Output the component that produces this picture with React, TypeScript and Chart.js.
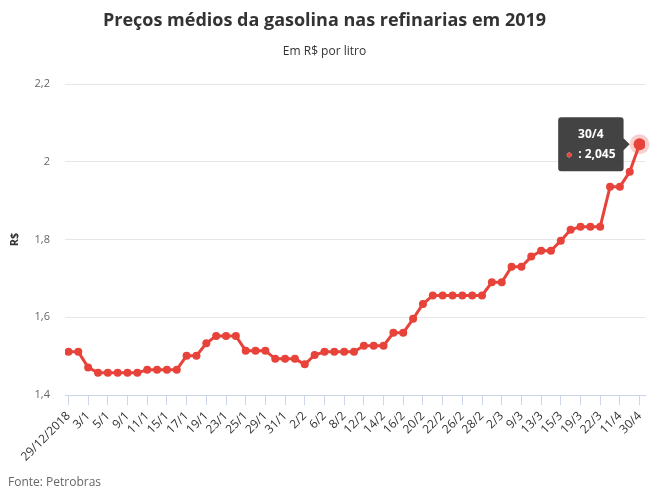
import React, { useEffect, useRef } from "react";
import { Chart, registerables } from "chart.js";

Chart.register(...registerables);

const dates: string[] = [
  "29/12/2018", "2/1", "3/1", "4/1", "5/1", "8/1", "9/1", "10/1", "11/1", "14/1",
  "15/1", "16/1", "17/1", "18/1", "19/1", "22/1", "23/1", "24/1", "25/1", "26/1",
  "29/1", "30/1", "31/1", "1/2", "2/2", "5/2", "6/2", "7/2", "8/2", "9/2",
  "12/2", "13/2", "14/2", "15/2", "16/2", "19/2", "20/2", "21/2", "22/2", "23/2",
  "26/2", "27/2", "28/2", "1/3", "2/3", "7/3", "9/3", "12/3", "13/3", "14/3",
  "15/3", "16/3", "19/3", "20/3", "22/3", "26/3", "11/4", "23/4", "30/4",
];

const prices: number[] = [
  1.511, 1.511, 1.471, 1.457, 1.457, 1.457, 1.457, 1.457, 1.465, 1.465,
  1.465, 1.465, 1.501, 1.501, 1.533, 1.552, 1.552, 1.552, 1.514, 1.514,
  1.514, 1.493, 1.493, 1.493, 1.479, 1.503, 1.511, 1.511, 1.511, 1.511,
  1.527, 1.527, 1.527, 1.56, 1.56, 1.596, 1.634, 1.656, 1.656, 1.656,
  1.656, 1.656, 1.656, 1.69, 1.69, 1.73, 1.73, 1.756, 1.771, 1.771,
  1.797, 1.825, 1.833, 1.833, 1.833, 1.936, 1.936, 1.974, 2.045,
];

const yTicks: number[] = [1.4, 1.6, 1.8, 2.0, 2.2];

const TITLE = "Preços médios da gasolina nas refinarias em 2019";
const SUBTITLE = "Em R$ por litro";
const SOURCE = "Fonte: Petrobras";
const Y_TITLE = "R$";

const RED = "#e8433a";
const FONT = "'Open Sans', sans-serif";

const fmt = (v: number, digits: number) =>
  String(Number(v.toFixed(digits))).replace(".", ",");

export default function App() {
  const ref = useRef<HTMLCanvasElement | null>(null);

  useEffect(() => {
    document.body.style.margin = "0";
    const canvas = ref.current;
    if (!canvas) return;
    const activeIndex = prices.length - 1;

    const haloPlugin = {
      id: "halo",
      beforeDatasetsDraw(chart: any) {
        const meta = chart.getDatasetMeta(0);
        const pt = meta.data[activeIndex];
        if (!pt) return;
        const ctx = chart.ctx;
        ctx.save();
        ctx.beginPath();
        ctx.arc(pt.x, pt.y, 10, 0, Math.PI * 2);
        ctx.fillStyle = "rgba(232,67,58,0.25)";
        ctx.fill();
        ctx.restore();
      },
    };

    const chart = new Chart(canvas, {
      type: "line",
      data: {
        datasets: [
          {
            data: prices.map((v, i) => ({ x: i, y: v })),
            borderColor: RED,
            backgroundColor: RED,
            borderWidth: 3,
            pointRadius: 4,
            pointBackgroundColor: RED,
            pointBorderWidth: 0,
            pointHoverRadius: 6,
            pointHoverBorderWidth: 0,
            pointHoverBackgroundColor: RED,
            tension: 0,
          },
        ],
      },
      options: {
        responsive: false,
        animation: false,
        events: [],
        layout: { padding: { left: 4, right: 12, top: 0, bottom: 0 } },
        plugins: {
          legend: { display: false },
          title: {
            display: true,
            text: TITLE,
            color: "#333333",
            font: { family: FONT, size: 18, weight: "bold" },
            padding: { top: 10, bottom: 13 },
          },
          subtitle: {
            display: true,
            text: SUBTITLE,
            color: "#333333",
            font: { family: FONT, size: 12 },
            padding: { top: 0, bottom: 25 },
          },
          tooltip: {
            enabled: true,
            backgroundColor: "rgba(51,51,51,0.92)",
            titleColor: "#ffffff",
            bodyColor: "#ffffff",
            titleFont: { family: FONT, size: 12, weight: "bold" },
            bodyFont: { family: FONT, size: 12, weight: "bold" },
            titleAlign: "center",
            bodyAlign: "center",
            titleMarginBottom: 6,
            padding: { top: 10, bottom: 9, left: 9, right: 9 },
            cornerRadius: 3,
            xAlign: "right",
            yAlign: "center",
            caretSize: 6,
            caretPadding: 10,
            displayColors: true,
            usePointStyle: true,
            boxWidth: 4,
            boxHeight: 4,
            boxPadding: 4,
            callbacks: {
              title: (items: any[]) => dates[items[0].parsed.x],
              label: (item: any) => ": " + fmt(item.parsed.y, 3),
              labelColor: () => ({ borderColor: RED, backgroundColor: RED, borderWidth: 0 }),
              labelPointStyle: () => ({ pointStyle: "circle", rotation: 0 }),
            },
          },
        },
        scales: {
          x: {
            type: "linear",
            min: -0.35,
            max: 58.55,
            afterBuildTicks: (scale: any) => {
              scale.ticks = dates
                .map((_, i) => i)
                .filter((i) => i % 2 === 0)
                .map((i) => ({ value: i }));
            },
            afterFit: (scale: any) => {
              scale.height = 99;
            },
            ticks: {
              autoSkip: false,
              minRotation: 45,
              maxRotation: 45,
              color: "#333333",
              font: { family: FONT, size: 12 },
              padding: 4,
              callback: (v: any) => dates[v as number],
            },
            grid: {
              drawOnChartArea: false,
              drawTicks: true,
              tickLength: 10,
              color: "#ccd6eb",
            },
            border: { color: "#ccd6eb", width: 1 },
          },
          y: {
            min: 1.4,
            max: 2.2,
            afterBuildTicks: (scale: any) => {
              scale.ticks = yTicks.map((v) => ({ value: v }));
            },
            afterFit: (scale: any) => {
              scale.width = 61;
            },
            ticks: {
              color: "#666666",
              font: { family: FONT, size: 11 },
              padding: 15,
              callback: (v: any) => fmt(v as number, 1),
            },
            grid: {
              drawTicks: false,
              color: (ctx: any) =>
                ctx.tick && Math.abs(ctx.tick.value - 1.4) < 1e-9 ? "rgba(0,0,0,0)" : "#e6e6e6",
            },
            border: { display: false },
            title: {
              display: true,
              text: Y_TITLE,
              color: "#333333",
              font: { family: FONT, size: 11, weight: "bold" },
              padding: { top: 4, bottom: 4 },
            },
          },
        },
      },
      plugins: [haloPlugin],
    } as any);

    const active = [{ datasetIndex: 0, index: activeIndex }];
    chart.setActiveElements(active);
    const el = chart.getDatasetMeta(0).data[activeIndex] as any;
    chart.tooltip?.setActiveElements(active, { x: el.x, y: el.y });
    chart.update();

    return () => chart.destroy();
  }, []);

  return (
    <div style={{ position: "fixed", left: 0, top: 0, width: 657, height: 494, background: "#fff" }}>
      <canvas ref={ref} width={657} height={494} style={{ display: "block" }} />
      <div
        style={{
          position: "absolute",
          left: 8,
          top: 473,
          fontFamily: FONT,
          fontSize: 12,
          color: "#666666",
          lineHeight: "18px",
        }}
      >
        {SOURCE}
      </div>
    </div>
  );
}
